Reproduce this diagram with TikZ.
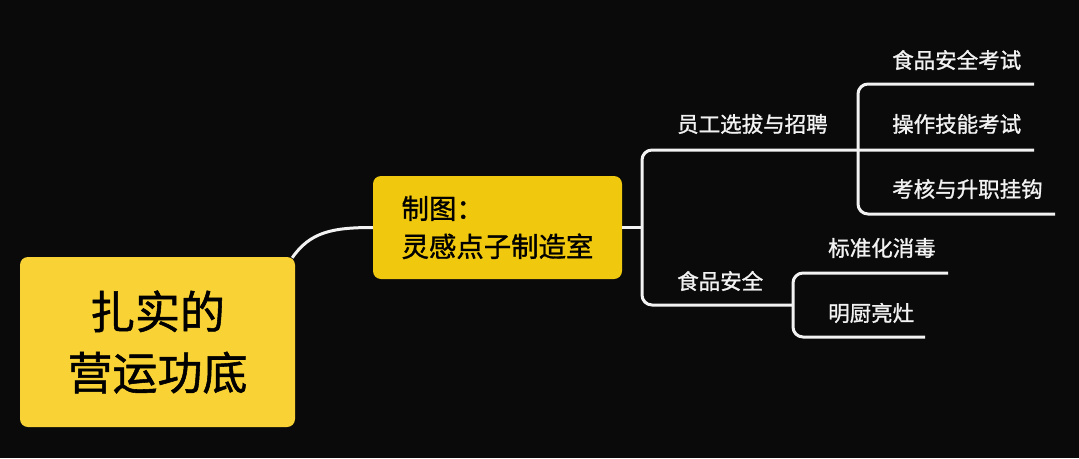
\documentclass[tikz,border=0pt]{standalone}
\usepackage{fontspec}
\setmainfont{Noto Sans CJK SC}
\newfontfamily\medfont{Noto Sans CJK SC}[RawFeature={embolden=1.2}]
\definecolor{bgblack}{HTML}{0A0A0A}
\definecolor{rootyellow}{HTML}{F9D235}
\definecolor{midyellow}{HTML}{F0C80E}
\definecolor{leafwhite}{HTML}{F2F2F2}
\begin{document}
\begin{tikzpicture}[x=1pt,y=-1pt,
	link/.style={draw=leafwhite,line width=3pt,rounded corners=10pt},
	rootbox/.style={fill=rootyellow,rounded corners=8pt,minimum width=275pt,minimum height=170pt,align=center,text=black,font=\medfont\fontsize{45}{61}\selectfont},
	midbox/.style={fill=midyellow,rounded corners=8pt,minimum width=249pt,minimum height=103pt,align=left,text=black,font=\medfont\fontsize{27.4}{38}\selectfont},
	leaf/.style={text=leafwhite,anchor=west,inner sep=0pt,font=\medfont\fontsize{21.5}{26}\selectfont}]
		\fill[bgblack] (0,0) rectangle (1079,458);
		
		\node[rootbox] (root) at (157.5,342) {扎实的\\营运功底};
		\node[midbox] (mid) at (497.5,227.5) {制图：\\灵感点子制造室};
		
		% first level labels
		\node[leaf] (hire) at (677,124) {员工选拔与招聘};
		\node[leaf] (safe) at (677,281) {食品安全};
		% second level labels
		\node[leaf] (exam1) at (892,60) {食品安全考试};
		\node[leaf] (exam2) at (892,124) {操作技能考试};
		\node[leaf] (promo) at (892,189) {考核与升职挂钩};
		\node[leaf] (clean) at (828,248) {标准化消毒};
		\node[leaf] (open) at (828,313) {明厨亮灶};
		
		% line ends
		\coordinate (j0) at (642,227.5);
		\coordinate (j1) at (858,150);
		\coordinate (j2) at (793,305);
		\coordinate (exam1-e) at (1034,84);
		\coordinate (exam2-e) at (1034,150);
		\coordinate (promo-e) at (1055,214);
		\coordinate (clean-e) at (948,273);
		\coordinate (open-e) at (925,337);
		
		\draw[link] ([xshift=-3pt,yshift=-1pt]root.north east) .. controls +(18,-26) and +(-40,0) .. (mid.west);
		\draw[link] (mid.east) -- (j0);
		\draw[link] (exam2-e) -- (j1 -| j0) -- (j2 -| j0) -- (j2);
		\draw[link] (exam1-e) -- (exam1-e -| j1) -- (promo-e -| j1) -- (promo-e);
		\draw[link] (clean-e) -- (clean-e -| j2) -- (open-e -| j2) -- (open-e);
	\end{tikzpicture}
\end{document}
